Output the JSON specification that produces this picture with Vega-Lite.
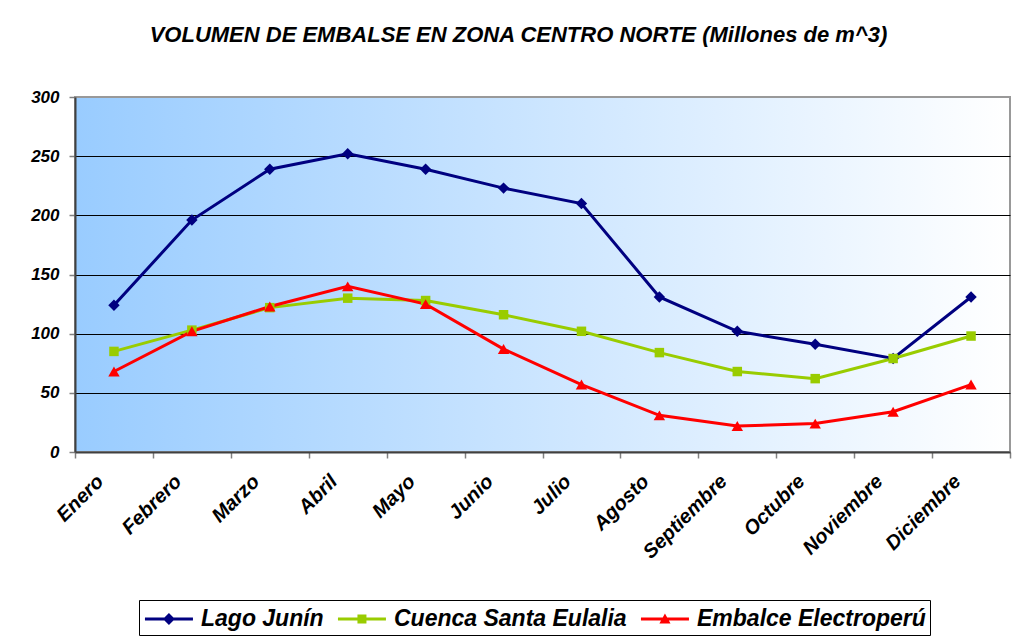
{
  "$schema": "https://vega.github.io/schema/vega-lite/v6.json",
  "width": 935,
  "height": 355,
  "autosize": {"type": "none"},
  "padding": {"left": 75, "top": 97, "right": 11, "bottom": 189},
  "background": "white",
  "title": {
    "text": "VOLUMEN DE EMBALSE EN ZONA CENTRO NORTE (Millones de m^3)",
    "font": "Liberation Sans",
    "fontSize": 22,
    "fontWeight": "bold",
    "fontStyle": "italic",
    "color": "black",
    "anchor": "middle",
    "offset": 41,
    "dx": -24
  },
  "data": {
    "values": [
      {"mes": "Enero", "serie": "Lago Junín", "v": 124},
      {"mes": "Febrero", "serie": "Lago Junín", "v": 196},
      {"mes": "Marzo", "serie": "Lago Junín", "v": 239},
      {"mes": "Abril", "serie": "Lago Junín", "v": 252},
      {"mes": "Mayo", "serie": "Lago Junín", "v": 239},
      {"mes": "Junio", "serie": "Lago Junín", "v": 223},
      {"mes": "Julio", "serie": "Lago Junín", "v": 210},
      {"mes": "Agosto", "serie": "Lago Junín", "v": 131},
      {"mes": "Septiembre", "serie": "Lago Junín", "v": 102},
      {"mes": "Octubre", "serie": "Lago Junín", "v": 91},
      {"mes": "Noviembre", "serie": "Lago Junín", "v": 79},
      {"mes": "Diciembre", "serie": "Lago Junín", "v": 131},
      {"mes": "Enero", "serie": "Cuenca Santa Eulalia", "v": 85},
      {"mes": "Febrero", "serie": "Cuenca Santa Eulalia", "v": 103},
      {"mes": "Marzo", "serie": "Cuenca Santa Eulalia", "v": 122},
      {"mes": "Abril", "serie": "Cuenca Santa Eulalia", "v": 130},
      {"mes": "Mayo", "serie": "Cuenca Santa Eulalia", "v": 128},
      {"mes": "Junio", "serie": "Cuenca Santa Eulalia", "v": 116},
      {"mes": "Julio", "serie": "Cuenca Santa Eulalia", "v": 102},
      {"mes": "Agosto", "serie": "Cuenca Santa Eulalia", "v": 84},
      {"mes": "Septiembre", "serie": "Cuenca Santa Eulalia", "v": 68},
      {"mes": "Octubre", "serie": "Cuenca Santa Eulalia", "v": 62},
      {"mes": "Noviembre", "serie": "Cuenca Santa Eulalia", "v": 79},
      {"mes": "Diciembre", "serie": "Cuenca Santa Eulalia", "v": 98},
      {"mes": "Enero", "serie": "Embalce Electroperú", "v": 68},
      {"mes": "Febrero", "serie": "Embalce Electroperú", "v": 102},
      {"mes": "Marzo", "serie": "Embalce Electroperú", "v": 123},
      {"mes": "Abril", "serie": "Embalce Electroperú", "v": 140},
      {"mes": "Mayo", "serie": "Embalce Electroperú", "v": 125},
      {"mes": "Junio", "serie": "Embalce Electroperú", "v": 87},
      {"mes": "Julio", "serie": "Embalce Electroperú", "v": 57},
      {"mes": "Agosto", "serie": "Embalce Electroperú", "v": 31},
      {"mes": "Septiembre", "serie": "Embalce Electroperú", "v": 22},
      {"mes": "Octubre", "serie": "Embalce Electroperú", "v": 24},
      {"mes": "Noviembre", "serie": "Embalce Electroperú", "v": 34},
      {"mes": "Diciembre", "serie": "Embalce Electroperú", "v": 57}
    ]
  },
  "encoding": {
    "x": {
      "field": "mes",
      "type": "nominal",
      "sort": ["Enero", "Febrero", "Marzo", "Abril", "Mayo", "Junio", "Julio", "Agosto", "Septiembre", "Octubre", "Noviembre", "Diciembre"],
      "scale": {"type": "band", "paddingInner": 0, "paddingOuter": 0},
      "axis": {
        "title": null,
        "labelAngle": -45,
        "labelAlign": "right",
        "labelBaseline": "middle",
        "labelFont": "Liberation Sans",
        "labelFontSize": 20,
        "labelFontWeight": "bold",
        "labelFontStyle": "italic",
        "labelColor": "black",
        "labelPadding": 20,
        "labelOffset": -14,
        "tickBand": "extent",
        "tickSize": 6,
        "tickColor": "#808080",
        "tickWidth": 1.5,
        "domainColor": "#404040",
        "domainWidth": 2,
        "grid": false
      }
    },
    "y": {
      "field": "v",
      "type": "quantitative",
      "scale": {"domain": [0, 300], "nice": false},
      "axis": {
        "title": null,
        "values": [0, 50, 100, 150, 200, 250, 300],
        "labelFont": "Liberation Sans",
        "labelFontSize": 17,
        "labelFontWeight": "bold",
        "labelFontStyle": "italic",
        "labelColor": "black",
        "labelPadding": 10,
        "tickSize": 6,
        "tickColor": "#808080",
        "tickWidth": 1.5,
        "domainColor": "#404040",
        "domainWidth": 2,
        "grid": true,
        "gridColor": {"condition": {"test": "datum.value == 300 || datum.value == 0", "value": "transparent"}, "value": "black"},
        "gridWidth": 1
      }
    }
  },
  "layer": [
    {
      "mark": {"type": "line", "strokeWidth": 3},
      "encoding": {
        "color": {
          "field": "serie",
          "type": "nominal",
          "scale": {
            "domain": ["Lago Junín", "Cuenca Santa Eulalia", "Embalce Electroperú"],
            "range": ["#000080", "#99CC00", "#FF0000"]
          },
          "legend": null
        }
      }
    },
    {
      "transform": [{"filter": "datum.serie == 'Lago Junín'"}],
      "mark": {"type": "point", "shape": "diamond", "filled": true, "size": 130, "opacity": 1, "color": "#000080"}
    },
    {
      "transform": [{"filter": "datum.serie == 'Cuenca Santa Eulalia'"}],
      "mark": {"type": "point", "shape": "square", "filled": true, "size": 90, "opacity": 1, "color": "#99CC00"}
    },
    {
      "transform": [{"filter": "datum.serie == 'Embalce Electroperú'"}],
      "mark": {"type": "point", "shape": "triangle-up", "filled": true, "size": 130, "opacity": 1, "color": "#FF0000"}
    },
    {
      "transform": [{"filter": "datum.v < 0"}],
      "mark": {"type": "point", "filled": true, "opacity": 1},
      "encoding": {
        "color": {
          "field": "serie",
          "type": "nominal",
          "scale": {
            "domain": ["Lago Junín", "Cuenca Santa Eulalia", "Embalce Electroperú"],
            "range": ["#000080", "#99CC00", "#FF0000"]
          },
          "legend": {
            "orient": "none",
            "legendX": 64,
            "legendY": 503,
            "direction": "horizontal",
            "title": null,
            "labelLimit": 0,
            "symbolSize": 900,
            "encode": {
              "symbols": {
                "update": {
                  "shape": {"signal": "datum.value == 'Lago Junín' ? 'M-0.87,-0.1H2.33V0.1H-0.87Z M0.73,-0.4L1.13,0L0.73,0.4L0.33,0Z' : datum.value == 'Cuenca Santa Eulalia' ? 'M-0.87,-0.1H2.33V0.1H-0.87Z M0.43,-0.3H1.03V0.3H0.43Z' : 'M-0.87,-0.1H2.33V0.1H-0.87Z M0.73,-0.37L1.1,0.3L0.36,0.3Z'"},
                  "opacity": {"value": 1},
                  "strokeWidth": {"value": 0}
                }
              }
            }
          }
        }
      }
    }
  ],
  "resolve": {"legend": {"color": "independent"}},
  "config": {
    "view": {
      "stroke": "#999999",
      "strokeWidth": 2,
      "fill": {
        "gradient": "linear",
        "x1": 0, "y1": 0, "x2": 1, "y2": 0,
        "stops": [
          {"offset": 0, "color": "#99CCFF"},
          {"offset": 1, "color": "#FFFFFF"}
        ]
      }
    },
    "legend": {
      "symbolSize": 900,
      "symbolStrokeWidth": 0,
      "symbolOpacity": 1,
      "labelFont": "Liberation Sans",
      "labelFontSize": 23,
      "labelFontWeight": "bold",
      "labelFontStyle": "italic",
      "labelColor": "black",
      "labelLimit": 0,
      "labelOffset": 28,
      "columnPadding": 12,
      "padding": 4,
      "strokeColor": "black",
      "strokeWidth": 1,
      "fillColor": "white",
      "symbolLimit": 0
    }
  }
}
